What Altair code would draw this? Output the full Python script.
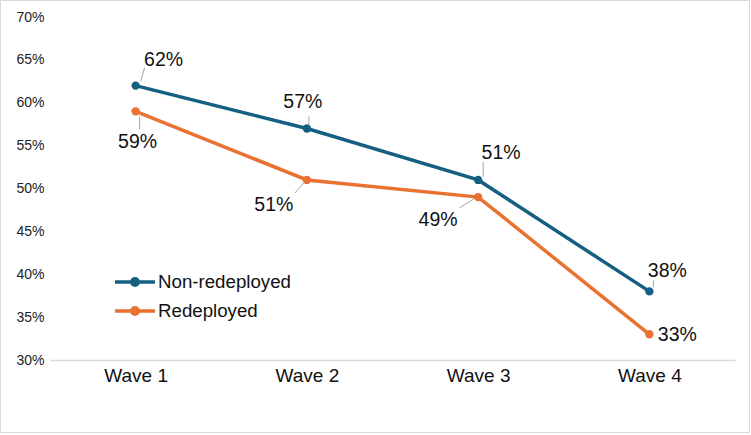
import altair as alt
import pandas as pd

# Share of respondents per survey wave, by deployment group (%)
waves = ["Wave 1", "Wave 2", "Wave 3", "Wave 4"]
non_redeployed = [62, 57, 51, 38]
redeployed = [59, 51, 49, 33]
groups = ["Non-redeployed", "Redeployed"]
colors = ["#156082", "#E97132"]

# Label placement, in pixels relative to each point: label centre, leader start, leader end
label_dx = {"Non-redeployed": [28, -4, 23, 18], "Redeployed": [2, -33, -40, 28]}
label_dy = {"Non-redeployed": [-26, -26, -27, -20], "Redeployed": [31, 25, 23, 1]}
leader = {
    "Non-redeployed": [(5, -4, 9, -18), (2, -4, 2, -12), (5, -3, 5, -18), (4, -4, 4, -11)],
    "Redeployed": [(4, 5, 4, 18), (-3, 3, -12, 13), (-3, 1, -19, 11), None],
}

PLOT_W, PLOT_H = 685, 343
X_DOMAIN = [0.5, 4.5]
Y_DOMAIN = [30, 70]
px_x = PLOT_W / (X_DOMAIN[1] - X_DOMAIN[0])   # pixels per wave step
px_y = PLOT_H / (Y_DOMAIN[1] - Y_DOMAIN[0])   # pixels per percentage point

series = {"Non-redeployed": non_redeployed, "Redeployed": redeployed}
rows, leader_rows = [], []
for g in groups:
    for i, w in enumerate(waves):
        v = series[g][i]
        rows.append({"idx": i + 1, "wave": w, "group": g, "value": v, "label": f"{v}%",
                     "dx": label_dx[g][i], "dy": label_dy[g][i]})
        seg = leader[g][i]
        if seg is not None:
            leader_rows.append({"idx": i + 1, "value": v,
                                "sx": seg[0], "sy": seg[1], "ex": seg[2], "ey": seg[3]})

df = pd.DataFrame(rows)
ldf = pd.DataFrame(leader_rows)

FONT = "Liberation Sans"

x_scale = alt.Scale(domain=X_DOMAIN, nice=False, zero=False)
y_scale = alt.Scale(domain=Y_DOMAIN, nice=False, zero=False)

wave_names = "['" + "','".join(waves) + "']"
x_enc = alt.X("idx:Q", title=None, scale=x_scale,
              axis=alt.Axis(values=[1, 2, 3, 4],
                            labelExpr=f"{wave_names}[datum.value - 1]",
                            labelFontSize=19, labelColor="#111111", labelPadding=6,
                            ticks=False, domainColor="#d9d9d9", domainWidth=1.5,
                            grid=False))
y_enc = alt.Y("value:Q", title=None, scale=y_scale,
              axis=alt.Axis(values=list(range(30, 75, 5)), labelExpr="datum.value + '%'",
                            labelFontSize=14, labelColor="#222222", labelPadding=6,
                            ticks=False, domain=False, grid=False))
color_enc = alt.Color("group:N", sort=groups, title=None,
                      scale=alt.Scale(domain=groups, range=colors),
                      legend=alt.Legend(
                          orient="none", legendX=73, legendY=253,
                          symbolType="M-2,0H2M0,-0.32A0.32,0.32 0 1,1 0,0.32A0.32,0.32 0 1,1 0,-0.32",
                          symbolSize=400, symbolStrokeWidth=3.5,
                          labelFontSize=18.7, labelColor="#111111", labelOffset=11,
                          rowPadding=6, padding=0))

base = alt.Chart(df)

lines = base.mark_line(strokeWidth=3.5).encode(x=x_enc, y=y_enc, color=color_enc)
points = base.mark_circle(size=70, opacity=1).encode(
    x=alt.X("idx:Q", scale=x_scale), y=alt.Y("value:Q", scale=y_scale),
    color=alt.Color("group:N", sort=groups, legend=None))

leaders = alt.Chart(ldf).transform_calculate(
    x1=f"datum.idx + datum.sx / {px_x}", y1=f"datum.value - datum.sy / {px_y}",
    x2=f"datum.idx + datum.ex / {px_x}", y2=f"datum.value - datum.ey / {px_y}",
).mark_rule(color="#a6a6a6", strokeWidth=1).encode(
    x=alt.X("x1:Q", scale=x_scale), y=alt.Y("y1:Q", scale=y_scale),
    x2="x2:Q", y2="y2:Q")

labels = base.transform_calculate(
    lx=f"datum.idx + datum.dx / {px_x}", ly=f"datum.value - datum.dy / {px_y}",
).mark_text(fontSize=19.5, color="#111111", baseline="middle", align="center").encode(
    x=alt.X("lx:Q", scale=x_scale), y=alt.Y("ly:Q", scale=y_scale), text="label:N")

border = alt.Chart(alt.Data(values=[{}])).mark_rect(
    fill="transparent", stroke="#d9d9d9", strokeWidth=1).encode(
    x=alt.value(-49.5), x2=alt.value(699.5), y=alt.value(-16.5), y2=alt.value(415.5))

chart = alt.layer(border, leaders, lines, points, labels).properties(
    width=PLOT_W, height=PLOT_H,
    autosize=alt.AutoSizeParams(type="none"),
    padding={"left": 50, "top": 17, "right": 16, "bottom": 75},
    background="white",
).configure(font=FONT).configure_view(stroke=None).configure_legend(
    labelFont=FONT).configure_axis(labelFont=FONT)

chart.save("out.html", embed_options={"renderer": "svg", "actions": False})
